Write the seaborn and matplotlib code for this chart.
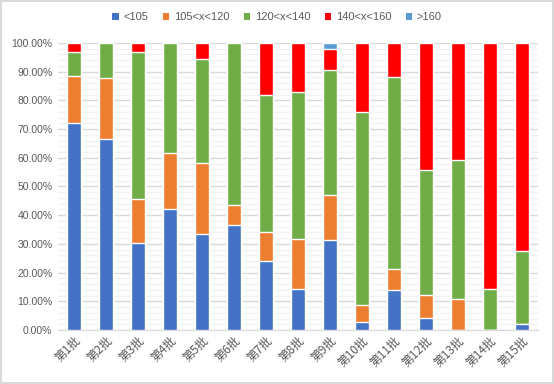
import numpy as np
import pandas as pd
import seaborn as sns
import matplotlib.pyplot as plt
from matplotlib.patches import Patch
from matplotlib.ticker import MultipleLocator, PercentFormatter

# batches and the share of each range (percent)
batches = [f"第{i}批" for i in range(1, 16)]
series_names = ["<105", "105<x<120", "120<x<140", "140<x<160", ">160"]
lt105 = [72.2, 66.7, 30.3, 42.3, 33.3, 36.7, 24.0, 14.3, 31.3, 2.9, 13.8, 4.1, 0.0, 0.0, 2.2]
r105_120 = [16.4, 21.2, 15.2, 19.2, 25.0, 6.7, 10.0, 17.3, 15.6, 5.9, 7.6, 8.0, 10.9, 0.0, 0.0]
r120_140 = [8.3, 12.1, 51.5, 38.5, 36.1, 56.6, 48.0, 51.4, 43.8, 67.0, 66.8, 43.8, 48.5, 14.2, 25.2]
r140_160 = [3.1, 0.0, 3.0, 0.0, 5.6, 0.0, 18.0, 17.0, 7.2, 24.2, 11.8, 44.1, 40.6, 85.8, 72.6]
gt160 = [0.0, 0.0, 0.0, 0.0, 0.0, 0.0, 0.0, 0.0, 2.1, 0.0, 0.0, 0.0, 0.0, 0.0, 0.0]
colors = ["#4472C4", "#ED7D31", "#70AD47", "#FF0000", "#5B9BD5"]

sns.set_style("white")
plt.rcParams['font.family'] = ['Liberation Sans', 'Noto Sans CJK SC', 'DejaVu Sans']
text_color = "#595959"

df = pd.DataFrame({"批次": batches}).set_index("批次")
for name, vals in zip(series_names, [lt105, r105_120, r120_140, r140_160, gt160]):
    df[name] = np.array(vals) / 100.0
cum = df.cumsum(axis=1)

fig = plt.figure(figsize=(5.54, 3.84), dpi=100)
fig.patch.set_edgecolor("#D9D9D9")
fig.patch.set_linewidth(1.5)
ax = fig.add_axes([58 / 554, 54 / 384, 480 / 554, 287 / 384])

# stacked bars: draw cumulative totals from the top series down
for name, color in reversed(list(zip(series_names, colors))):
    sns.barplot(x=cum.index, y=cum[name].values, color=color, width=0.41,
                saturation=1, ax=ax, zorder=3)

ax.set_ylim(0, 1)
ax.yaxis.set_major_locator(MultipleLocator(0.1))
ax.yaxis.set_minor_locator(MultipleLocator(0.02))
ax.yaxis.set_major_formatter(PercentFormatter(1.0, decimals=2))
ax.grid(axis="y", which="major", color="#D9D9D9", linewidth=1, zorder=0)
ax.grid(axis="y", which="minor", color="#F2F2F2", linewidth=1, zorder=0)
ax.set_axisbelow(True)
for side in ["left", "right", "top"]:
    ax.spines[side].set_visible(False)
ax.spines["bottom"].set_color("#D9D9D9")
ax.tick_params(axis="both", which="both", length=0, colors=text_color)
ax.tick_params(axis="y", labelsize=7.5, pad=4)
ax.tick_params(axis="x", labelsize=8.5, pad=3)
ax.set_xlabel("")
ax.set_ylabel("")
for lbl in ax.get_xticklabels():
    lbl.set_rotation(45)
    lbl.set_ha("right")
    lbl.set_va("top")
    lbl.set_rotation_mode("anchor")
    lbl.set_family(['Noto Sans CJK SC', 'DejaVu Sans'])

handles = [Patch(facecolor=c, edgecolor="none") for c in colors]
fig.legend(handles, series_names, loc="center", bbox_to_anchor=(0.5, 1 - 17 / 384),
           ncol=5, frameon=False, fontsize=8, labelcolor=text_color,
           handlelength=0.6, handleheight=0.6, handletextpad=0.4, columnspacing=1.3)

fig.savefig("out.png", dpi=100)
